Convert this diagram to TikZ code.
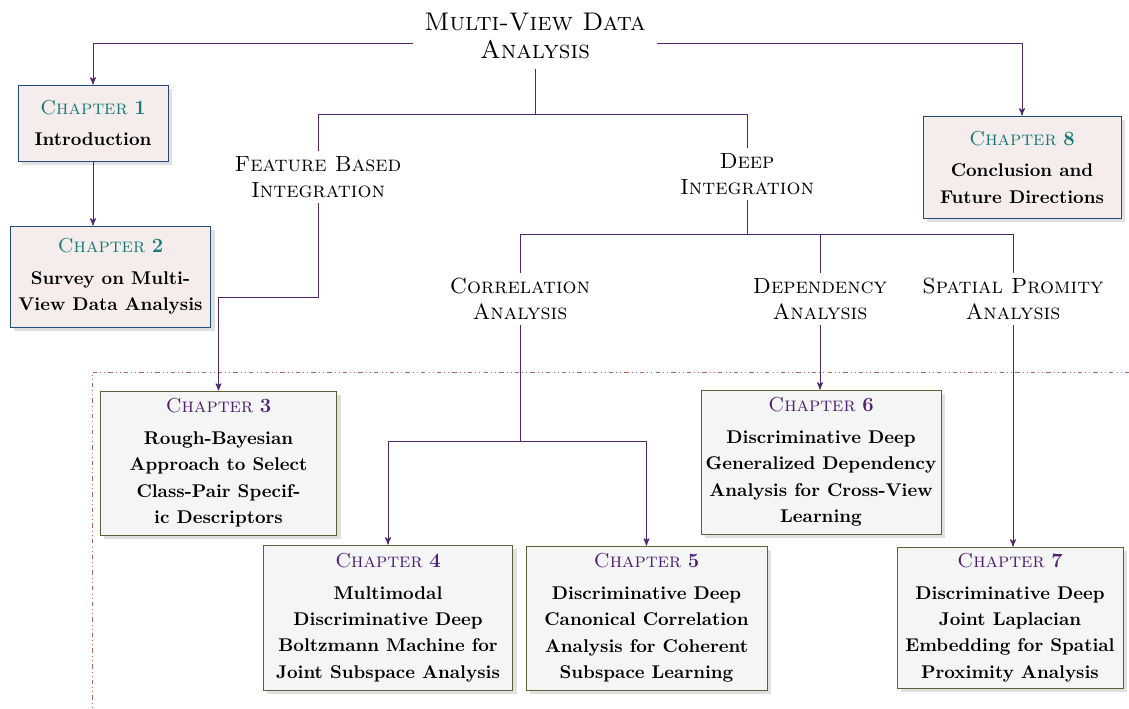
\documentclass[tikz,border=0pt]{standalone}
\usepackage{fontspec}
\usetikzlibrary{arrows,positioning,shadows}
\definecolor{chapfillA}{RGB}{244,237,235}
\definecolor{chapedgeA}{RGB}{35,75,125}
\definecolor{chapheadA}{RGB}{25,120,120}
\definecolor{chapfillB}{RGB}{244,246,245}
\definecolor{chapedgeB}{RGB}{95,95,55}
\definecolor{chapheadB}{RGB}{80,30,115}
\definecolor{linkcol}{RGB}{80,40,105}
\definecolor{partcol}{RGB}{175,105,95}
\newcommand{\chapnum}[2]{{\color{#1}\mdseries\fontsize{11.5}{15}\selectfont\textsc{Chapter}~\textbf{#2}}\\[3pt]}
\tikzset{chap box/.style={rectangle,draw,line width=0.55pt,align=center,inner sep=2pt,
           font=\fontsize{10.5}{15}\selectfont\bfseries,
           drop shadow={shadow xshift=0.08cm,shadow yshift=-0.08cm,fill=black!12,opacity=1}},
         chap a/.style={chap box,fill=chapfillA,draw=chapedgeA},
         chap b/.style={chap box,fill=chapfillB,draw=chapedgeB},
         topic/.style={align=center,inner sep=3pt,font=\fontsize{12.5}{14.5}\selectfont\scshape},
         link/.style={draw=linkcol,line width=0.55pt},
}

\begin{document}
\begin{tikzpicture}[x=0.02cm,y=-0.02cm,>=stealth']
\useasboundingbox (0,0) rectangle (1129,709);
% part border
\draw[partcol,line width=0.5pt,dash pattern=on 2.5pt off 1.8pt on 0.5pt off 1.8pt on 0.5pt off 1.8pt]
    (1129,372) -- (92,372) -- (92,709);
% headings
\node[topic,font=\fontsize{14.5}{15.5}\selectfont\scshape,inner sep=6pt] (title) at (535,36) {Multi-View Data\\Analysis};
\node[topic] (feat) at (318,177) {Feature Based\\Integration};
\node[topic] (deep) at (747,174) {Deep\\Integration};
\node[topic] (corr) at (520,299) {Correlation\\Analysis};
\node[topic] (dep) at (820,299) {Dependency\\Analysis};
\node[topic] (spa) at (1013,299) {Spatial Promity\\Analysis};
% chapters
\node[chap a,minimum width=3cm,minimum height=1.52cm] (ch1) at (93,123) {\chapnum{chapheadA}{1}Introduction};
\node[chap a,minimum width=4.02cm,minimum height=2.02cm] (ch2) at (110.5,276.5) {\chapnum{chapheadA}{2}Survey on Multi-\\View Data Analysis};
\node[chap a,minimum width=3.96cm,minimum height=2.04cm] (ch8) at (1022,167) {\chapnum{chapheadA}{8}Conclusion and\\Future Directions};
\node[chap b,minimum width=4.74cm,minimum height=2.88cm] (ch3) at (218.5,463) {\chapnum{chapheadB}{3}Rough-Bayesian\\Approach to Select\\Class-Pair Specif-\\ic Descriptors};
\node[chap b,minimum width=5cm,minimum height=2.9cm] (ch4) at (388,617.5) {\chapnum{chapheadB}{4}Multimodal\\Discriminative Deep\\Boltzmann Machine for\\Joint Subspace Analysis};
\node[chap b,minimum width=4.82cm,minimum height=2.88cm] (ch5) at (646.5,618) {\chapnum{chapheadB}{5}Discriminative Deep\\Canonical Correlation\\Analysis for Coherent\\Subspace Learning};
\node[chap b,minimum width=4.8cm,minimum height=2.88cm] (ch6) at (821,462) {\chapnum{chapheadB}{6}Discriminative Deep\\Generalized Dependency\\Analysis for Cross-View\\Learning};
\node[chap b,minimum width=4.52cm,minimum height=2.82cm] (ch7) at (1010,617.5) {\chapnum{chapheadB}{7}Discriminative Deep\\Joint Laplacian\\Embedding for Spatial\\Proximity Analysis};
% junctions
\coordinate (t1) at (535,114);
\coordinate (f1) at (318,297);
\coordinate (d1) at (747,234);
\coordinate (c1) at (520,441);
% links
\draw[link,->] ([yshift=-4pt]title.west) -| (ch1);
\draw[link,->] ([yshift=-4pt]title.east) -| (ch8);
\draw[link,->] (ch1) -- (ch1 |- ch2.north);
\draw[link] (title) -- (t1) -| (feat);
\draw[link] (t1) -| (deep);
\draw[link,->] (feat) -- (f1) -| (ch3);
\draw[link] (deep) -- (d1) -| (corr);
\draw[link] (d1) -| (dep);
\draw[link] (d1) -| (spa);
\draw[link,->] (corr) -- (c1) -| (ch4);
\draw[link,->] (c1) -| (ch5);
\draw[link,->] (dep) -- (dep |- ch6.north);
\draw[link,->] (spa) -- (spa |- ch7.north);
\end{tikzpicture}
\end{document}
